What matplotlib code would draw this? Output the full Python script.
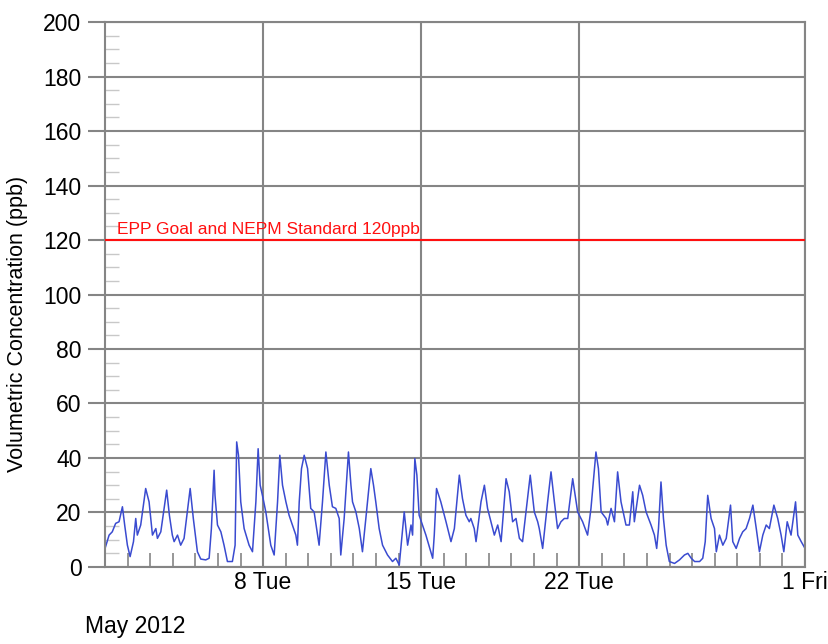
import pandas as pd
import matplotlib
matplotlib.use("Agg")
import matplotlib.pyplot as plt
import matplotlib.dates as mdates
from matplotlib.ticker import MultipleLocator

plt.rcParams['font.family'] = ['Liberation Sans', 'DejaVu Sans']

# days since 2012-05-01 00:00 and concentration (ppb)
day_offsets = [
    0.00, 0.18, 0.32, 0.47, 0.62, 0.77, 0.87, 0.99, 1.11, 1.26, 1.36, 1.43, 1.58, 1.80, 1.95,
    2.10, 2.25, 2.32, 2.47, 2.73, 2.85, 2.98, 3.06, 3.21, 3.35, 3.50, 3.77, 3.91, 4.09, 4.24,
    4.46, 4.61, 4.71, 4.83, 4.87, 4.98, 5.13, 5.27, 5.42, 5.64, 5.76, 5.83, 5.91, 6.01, 6.16,
    6.38, 6.53, 6.68, 6.78, 6.87, 6.97, 7.12, 7.34, 7.49, 7.64, 7.74, 7.86, 8.01, 8.15, 8.45,
    8.52, 8.60, 8.70, 8.82, 8.97, 9.11, 9.26, 9.48, 9.63, 9.78, 9.93, 10.07, 10.22, 10.37, 10.44,
    10.59, 10.78, 10.89, 10.96, 11.11, 11.26, 11.40, 11.55, 11.77, 11.89, 11.99, 12.14, 12.29, 12.51, 12.73,
    12.88, 13.03, 13.25, 13.40, 13.55, 13.62, 13.72, 13.81, 13.91, 14.06, 14.21, 14.51, 14.58, 14.68, 14.87,
    15.10, 15.32, 15.47, 15.69, 15.83, 15.98, 16.13, 16.20, 16.35, 16.43, 16.65, 16.80, 16.94, 17.09, 17.24,
    17.39, 17.54, 17.76, 17.90, 18.05, 18.20, 18.35, 18.49, 18.83, 19.01, 19.16, 19.23, 19.38, 19.60, 19.75,
    19.90, 20.04, 20.19, 20.34, 20.49, 20.71, 20.93, 21.15, 21.37, 21.52, 21.74, 21.85, 21.97, 22.19, 22.26,
    22.41, 22.56, 22.70, 22.85, 23.07, 23.22, 23.37, 23.44, 23.67, 23.81, 23.96, 24.18, 24.33, 24.43, 24.51,
    24.62, 24.73, 24.85, 24.99, 25.22, 25.44, 25.66, 25.81, 25.96, 26.11, 26.33, 26.47, 26.58, 26.69, 26.84,
    26.99, 27.07, 27.21, 27.36, 27.51, 27.70, 27.80, 27.95, 28.10, 28.24, 28.39, 28.54, 28.69, 28.84, 28.98,
    29.13, 29.28, 29.42, 29.62, 29.79, 29.94, 30.06, 30.21, 30.38, 30.58, 30.68, 30.83, 31.00,
]
ppb = [
    6.8, 11.7, 12.9, 16.0, 16.6, 22.1, 15.4, 8.0, 3.8, 9.3, 17.8, 11.7, 15.4, 28.8, 23.9,
    11.7, 14.1, 10.5, 12.9, 28.2, 19.0, 11.7, 9.3, 11.7, 8.0, 10.5, 28.8, 17.8, 5.6, 2.9,
    2.6, 3.2, 14.1, 35.5, 26.3, 15.4, 12.9, 8.0, 2.0, 2.0, 8.0, 45.9, 41.0, 23.9, 14.1,
    8.0, 5.6, 23.9, 43.4, 30.0, 26.3, 20.2, 8.0, 4.4, 23.9, 41.0, 30.0, 23.9, 19.0, 11.7,
    8.0, 23.9, 36.1, 41.0, 36.1, 21.5, 20.2, 8.0, 23.9, 42.2, 30.0, 22.1, 21.5, 17.8, 4.4,
    17.8, 42.2, 30.0, 23.9, 20.2, 14.1, 5.6, 17.8, 36.1, 30.0, 23.9, 14.1, 8.0, 4.4, 2.0,
    3.2, 0.7, 20.2, 8.0, 15.4, 11.7, 39.8, 33.7, 19.0, 15.4, 11.7, 3.2, 11.7, 28.8, 23.9,
    16.6, 9.3, 14.1, 33.7, 25.1, 19.0, 16.6, 17.8, 14.1, 9.3, 23.9, 30.0, 21.5, 16.6, 11.7,
    15.4, 9.3, 32.4, 27.6, 16.6, 17.8, 10.5, 9.3, 33.7, 20.2, 16.6, 14.1, 6.8, 23.9, 34.9,
    23.9, 14.1, 16.6, 17.8, 17.8, 32.4, 20.2, 16.6, 11.7, 21.5, 42.2, 36.1, 20.2, 17.8, 15.4,
    21.5, 16.6, 34.9, 23.9, 15.4, 15.4, 27.6, 16.6, 30.0, 26.3, 20.2, 15.4, 11.7, 6.8, 14.1,
    31.2, 17.8, 8.0, 2.0, 1.3, 2.6, 4.4, 5.0, 3.2, 2.0, 2.0, 3.2, 9.3, 26.3, 17.8,
    14.1, 5.6, 11.7, 8.0, 10.5, 22.7, 9.3, 6.8, 10.5, 12.9, 14.1, 17.8, 22.7, 14.1, 5.6,
    11.7, 15.4, 14.1, 22.7, 17.8, 11.7, 5.6, 16.6, 11.7, 23.9, 11.7, 9.3, 6.8,
]

goal_value = 120
goal_label = "EPP Goal and NEPM Standard 120ppb"
start = pd.Timestamp("2012-05-01")
end = pd.Timestamp("2012-06-01")
major_days = ["2012-05-08", "2012-05-15", "2012-05-22", "2012-06-01"]

times = start + pd.to_timedelta(day_offsets, unit="D")

fig = plt.figure(figsize=(8.29, 6.44), dpi=100)
ax = fig.add_axes([0.1267, 0.1196, 0.8444, 0.8462])

grid_col = "#858585"
ax.plot(times, ppb, color="#3a4bd0", lw=1.1)
ax.axhline(goal_value, color="#ff1010", lw=1.5, zorder=3)
ax.text(start + pd.Timedelta(days=0.55), goal_value + 1.2, goal_label,
        color="#ff1010", fontsize=12.5, va="bottom", ha="left")

ax.set_xlim(start, end)
ax.set_ylim(0, 200)

ax.yaxis.set_major_locator(MultipleLocator(20))
ax.yaxis.set_minor_locator(MultipleLocator(5))
ax.tick_params(axis="y", which="major", direction="out", length=12, width=1.5,
               color=grid_col, labelsize=16.5, pad=5)
ax.tick_params(axis="y", which="minor", direction="in", length=10, width=1,
               color="#c8c8c8")

ax.set_xticks(pd.to_datetime(major_days))
ax.xaxis.set_major_formatter(mdates.DateFormatter("%-d %a"))
ax.xaxis.set_minor_locator(mdates.DayLocator())
ax.tick_params(axis="x", which="major", length=0, labelsize=16.5, pad=3)
ax.tick_params(axis="x", which="minor", direction="in", length=10, width=1.2,
               color=grid_col)

ax.grid(True, which="major", color=grid_col, lw=1.5)
ax.set_axisbelow(True)
for s in ax.spines.values():
    s.set_color(grid_col)
    s.set_linewidth(1.5)

fig.text(18 / 829, 1 - 324 / 644, "Volumetric Concentration (ppb)", fontsize=15.5,
         rotation=90, ha="center", va="center")
fig.text(85 / 829, 1 - 627 / 644, "May 2012", fontsize=16.5, ha="left", va="center")

fig.savefig("out.png", dpi=100)
